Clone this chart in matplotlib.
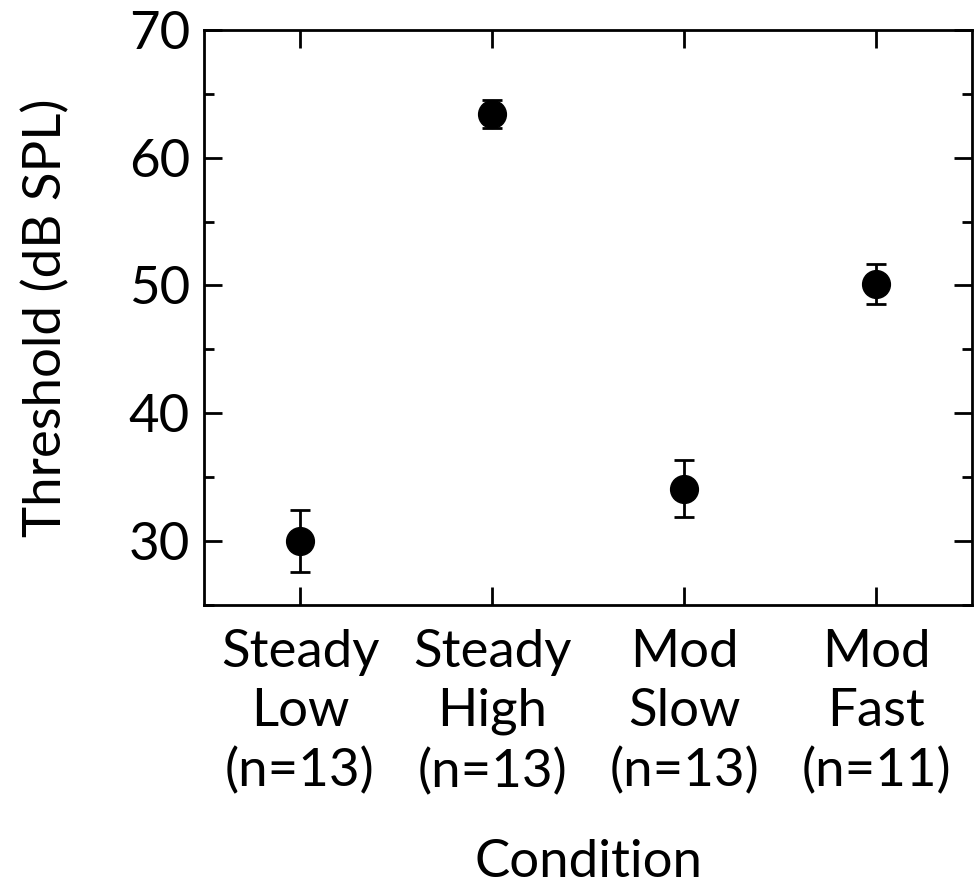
import matplotlib
matplotlib.use('Agg')
import matplotlib.pyplot as plt
from matplotlib.ticker import MultipleLocator

plt.rcParams['font.family'] = ['Lato', 'DejaVu Sans']

# data
conditions = ['Steady\nLow\n(n=13)', 'Steady\nHigh\n(n=13)', 'Mod\nSlow\n(n=13)', 'Mod\nFast\n(n=11)']
thresholds = [30.0, 63.4, 34.1, 50.1]
errors = [2.4, 1.1, 2.25, 1.55]

fig = plt.figure(figsize=(9.76, 8.94), dpi=100)
ax = fig.add_axes([0.209, 0.3233, 0.787, 0.6433])

x = list(range(1, len(conditions) + 1))
ax.errorbar(x, thresholds, yerr=errors, fmt='o', color='black',
            markersize=20, elinewidth=2, capsize=7, capthick=2)

ax.set_xlim(0.5, 4.5)
ax.set_ylim(25, 70)
ax.set_xticks(x)
ax.set_xticklabels(conditions, fontsize=38, linespacing=1.32)
ax.yaxis.set_major_locator(MultipleLocator(10))
ax.yaxis.set_minor_locator(MultipleLocator(5))
ax.tick_params(axis='y', labelsize=38)

ax.tick_params(which='major', direction='in', length=13, width=2,
               top=True, right=True, pad=10)
ax.tick_params(axis='x', which='major', pad=17)
ax.tick_params(which='minor', direction='in', length=7, width=2,
               right=True)
ax.tick_params(axis='x', which='minor', bottom=False, top=False)
for s in ax.spines.values():
    s.set_linewidth(2)

ax.set_ylabel('Threshold (dB SPL)', fontsize=38, labelpad=42)
ax.set_xlabel('Condition', fontsize=38, labelpad=31)

plt.savefig('out.png', dpi=100)
